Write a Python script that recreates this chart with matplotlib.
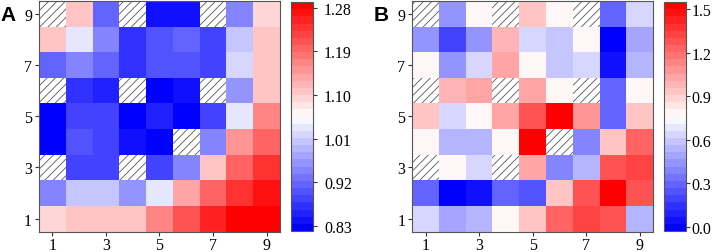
import numpy as np
import matplotlib
matplotlib.use("Agg")
import matplotlib.pyplot as plt
from matplotlib.colors import Normalize

plt.rcParams['font.family'] = 'serif'
plt.rcParams['font.serif'] = ['Liberation Serif', 'DejaVu Serif']
plt.rcParams['hatch.color'] = '#555555'
plt.rcParams['hatch.linewidth'] = 0.6

nan = np.nan
ticks = [1, 3, 5, 7, 9]

# rows are y = 1 .. 9 (bottom to top), columns x = 1 .. 9
data_a = [
    [1.09, 1.11, 1.11, 1.11, 1.16, 1.21, 1.25, 1.28, 1.29],
    [0.94, 1.00, 1.01, 0.96, 1.04, 1.14, 1.20, 1.24, 1.27],
    [nan, 0.88, 0.88, nan, 0.88, 0.95, 1.10, 1.20, 1.24],
    [0.83, 0.90, 0.89, 0.84, 0.82, nan, 0.95, 1.15, 1.20],
    [0.83, 0.89, 0.89, 0.82, 0.86, 0.82, 0.88, 1.04, 1.16],
    [nan, 0.87, 0.86, nan, 0.82, 0.84, nan, 0.96, 1.11],
    [0.91, 0.95, 0.92, 0.87, 0.90, 0.90, 0.89, 1.02, 1.11],
    [1.10, 1.03, 0.95, 0.87, 0.90, 0.91, 0.88, 1.00, 1.11],
    [nan, 1.11, 0.91, nan, 0.84, 0.84, nan, 0.95, 1.09],
]
data_b = [
    [0.65, 0.50, 0.55, 0.80, 0.92, 1.25, 1.35, 1.28, 0.55],
    [0.30, -0.02, 0.05, 0.30, 0.22, 0.93, 1.30, 1.55, 1.30],
    [nan, 0.80, 0.65, nan, 1.05, 0.40, 0.52, 1.30, 1.35],
    [0.80, 0.55, 0.55, 0.80, 1.55, nan, 0.37, 0.95, 1.25],
    [0.95, 0.65, 0.80, 1.05, 1.30, 1.55, 1.07, 0.28, 0.95],
    [nan, 0.98, 1.05, nan, 1.05, 0.80, nan, 0.30, 0.80],
    [0.80, 0.45, 0.65, 1.05, 0.80, 0.58, 0.65, 0.05, 0.55],
    [0.45, 0.20, 0.45, 1.00, 0.65, 0.58, 0.80, 0.00, 0.50],
    [nan, 0.45, 0.80, nan, 0.95, 0.80, nan, 0.30, 0.65],
]
cbar_ticks_a = [0.83, 0.92, 1.01, 1.10, 1.19, 1.28]
cbar_ticks_b = [0.0, 0.3, 0.6, 0.9, 1.2, 1.5]

fig = plt.figure(figsize=(7.13, 2.53), dpi=100)

panels = [
    ("A", data_a, 0.819, 1.292, cbar_ticks_a, "%.2f", 0.0547, 0.408, 5),
    ("B", data_b, -0.03, 1.55, cbar_ticks_b, "%.1f", 0.578, 0.931, 1),
]

cmap = plt.get_cmap('bwr', 32)
for label, data, vmin, vmax, cticks, fmt, axl, cbl, cpad in panels:
    ax = fig.add_axes([axl, 0.081, 0.338, 0.911])
    cax = fig.add_axes([cbl, 0.083, 0.031, 0.905])
    z = np.ma.masked_invalid(np.array(data))
    ax.patch.set_hatch('////')
    ax.patch.set_edgecolor('#555555')
    mesh = ax.pcolormesh(np.arange(1, 10), np.arange(1, 10), z, cmap=cmap,
                         norm=Normalize(vmin, vmax), shading='nearest')
    ax.set_xticks(ticks)
    ax.set_yticks(ticks)
    ax.tick_params(labelsize=11.5, length=3, color='#333333')
    ax.tick_params(axis='x', pad=1)
    ax.tick_params(axis='y', pad=2)
    for s in ax.spines.values():
        s.set_color('#555555')
    cb = fig.colorbar(mesh, cax=cax, ticks=cticks, format=fmt)
    cb.outline.set_edgecolor('#555555')
    cax.tick_params(labelsize=11.5, length=3, color='#333333', pad=cpad)
    fig.text(axl - 0.054, 0.975, label, fontsize=15, fontweight='bold',
             family='Liberation Sans', va='top', ha='left')

fig.savefig("out.png", dpi=100)
